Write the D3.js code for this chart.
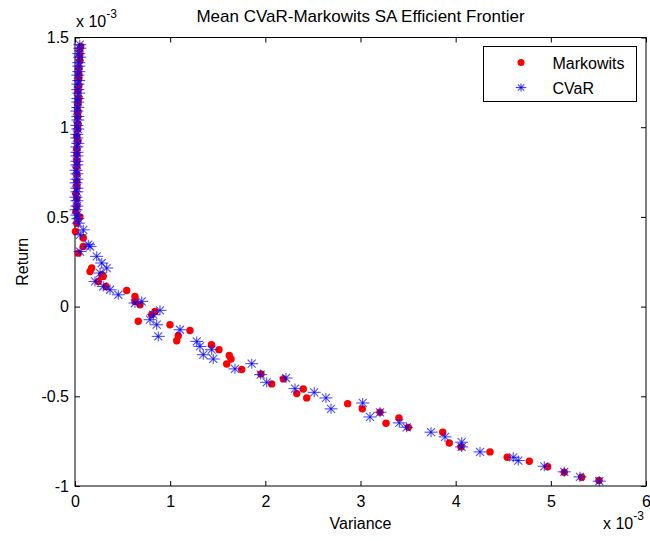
<!DOCTYPE html>
<html>
<head>
<meta charset="utf-8">
<script src="https://cdn.jsdelivr.net/npm/d3@7/dist/d3.min.js"></script>
<style>
  body { margin: 0; background: #fff; }
  svg { font-family: Arial, 'Liberation Sans', sans-serif; }
</style>
</head>
<body>
<div id="chart"></div>
<script>
// values in units of 1e-3, [variance, return]
const markowits = [
  [0.06, 1.45], [0.05, 1.43], [0.05, 1.40], [0.05, 1.37], [0.04, 1.33], [0.04, 1.30],
  [0.04, 1.27], [0.04, 1.23], [0.03, 1.20], [0.04, 1.16], [0.03, 1.13], [0.03, 1.09],
  [0.03, 1.06], [0.03, 1.02], [0.03, 0.99], [0.02, 0.95], [0.03, 0.92], [0.02, 0.88],
  [0.02, 0.85], [0.02, 0.81], [0.02, 0.78], [0.02, 0.74], [0.02, 0.70], [0.02, 0.67],
  [0.01, 0.63], [0.02, 0.60], [0.02, 0.56], [0.01, 0.53], [0.05, 0.50],
  [0.018, 0.465], [0.005, 0.419], [0.087, 0.382], [0.087, 0.335], [0.035, 0.298],
  [0.175, 0.215], [0.158, 0.196], [0.281, 0.178], [0.297, 0.168], [0.245, 0.140],
  [0.326, 0.112], [0.543, 0.090], [0.630, 0.057], [0.630, 0.029], [0.683, 0.010],
  [0.841, -0.027], [0.806, -0.045], [0.665, -0.082], [0.998, -0.101], [1.208, -0.133],
  [1.085, -0.162], [1.069, -0.190], [1.434, -0.212], [1.513, -0.240], [1.621, -0.272],
  [1.639, -0.292], [1.594, -0.320], [1.752, -0.351], [1.954, -0.375], [2.067, -0.431],
  [2.189, -0.403], [2.330, -0.485], [2.399, -0.459], [2.435, -0.509], [2.865, -0.541],
  [3.019, -0.570], [3.205, -0.589], [3.268, -0.650], [3.404, -0.620], [3.502, -0.673],
  [3.864, -0.700], [3.933, -0.760], [4.056, -0.782], [4.361, -0.810], [4.542, -0.840],
  [4.774, -0.862], [4.967, -0.893], [5.141, -0.923], [5.324, -0.951], [5.506, -0.969]
]

const cvar = [
  [0.05, 1.46], [0.05, 1.44], [0.04, 1.41], [0.05, 1.39], [0.04, 1.36], [0.04, 1.34],
  [0.04, 1.31], [0.03, 1.29], [0.04, 1.26], [0.03, 1.24], [0.03, 1.21], [0.04, 1.19],
  [0.03, 1.16], [0.03, 1.14], [0.03, 1.11], [0.02, 1.09], [0.03, 1.06], [0.03, 1.04],
  [0.02, 1.01], [0.03, 0.99], [0.02, 0.96], [0.02, 0.94], [0.03, 0.91], [0.02, 0.89],
  [0.02, 0.86], [0.02, 0.84], [0.02, 0.81], [0.02, 0.79], [0.01, 0.76], [0.02, 0.74],
  [0.02, 0.71], [0.01, 0.69], [0.02, 0.66], [0.02, 0.64], [0.01, 0.61], [0.02, 0.59],
  [0.02, 0.56], [0.01, 0.54], [0.02, 0.51], [0.03, 0.49],
  [0.035, 0.465], [0.053, 0.400], [0.087, 0.428], [0.140, 0.345], [0.158, 0.335],
  [0.053, 0.307], [0.228, 0.280], [0.281, 0.243], [0.333, 0.215], [0.263, 0.187],
  [0.210, 0.140], [0.297, 0.112], [0.368, 0.094], [0.455, 0.066], [0.630, 0.020],
  [0.701, 0.029], [0.893, -0.021], [0.823, -0.045], [0.788, -0.073], [0.858, -0.101],
  [0.875, -0.166], [1.103, -0.129], [1.279, -0.194], [1.313, -0.222], [1.436, -0.240],
  [1.348, -0.268], [1.453, -0.292], [1.681, -0.347], [1.857, -0.318], [1.951, -0.379],
  [2.014, -0.422], [2.217, -0.398], [2.312, -0.457], [2.514, -0.478], [2.637, -0.509],
  [2.690, -0.570], [3.023, -0.537], [3.100, -0.615], [3.205, -0.589], [3.408, -0.648],
  [3.485, -0.673], [3.741, -0.700], [3.888, -0.726], [4.063, -0.756], [4.063, -0.782],
  [4.256, -0.810], [4.605, -0.840], [4.658, -0.858], [4.931, -0.890], [5.141, -0.921],
  [5.306, -0.949], [5.509, -0.973]
]

const xTicks = [0, 1, 2, 3, 4, 5, 6]
const yTicks = [-1, -0.5, 0, 0.5, 1, 1.5]
const seriesNames = ['Markowits', 'CVaR']

const width = 650
const height = 541
const margin = { top: 37.5, right: 4, bottom: 55, left: 75 }

const svg = d3.select('#chart')
  .append('svg')
  .attr('width', width)
  .attr('height', height)

const scaleX = d3.scaleLinear().domain([0, 6]).range([margin.left, width - margin.right])
const scaleY = d3.scaleLinear().domain([-1, 1.5]).range([height - margin.bottom, margin.top])

const x0 = scaleX.range()[0]
const x1 = scaleX.range()[1]
const y0 = scaleY.range()[0]
const y1 = scaleY.range()[1]

// axes with inward ticks, MATLAB style box
const axisBottom = d3.axisBottom(scaleX).tickValues(xTicks).tickSize(-5).tickPadding(10).tickFormat(d3.format('d'))
const axisTop = d3.axisTop(scaleX).tickValues(xTicks).tickSize(-5).tickFormat('')
const axisLeft = d3.axisLeft(scaleY).tickValues(yTicks).tickSize(-5).tickPadding(6).tickFormat((d) => String(d))
const axisRight = d3.axisRight(scaleY).tickValues(yTicks).tickSize(-5).tickFormat('')

const styleAxis = (g) => {
  g.select('.domain').remove()
  g.selectAll('line').attr('stroke', '#000')
  g.selectAll('text').attr('fill', '#000').style('font-size', '16px')
}

svg.append('g').attr('transform', `translate(0, ${y0})`).call(axisBottom).call(styleAxis)
svg.append('g').attr('transform', `translate(0, ${y1})`).call(axisTop).call(styleAxis)
svg.append('g').attr('transform', `translate(${x0}, 0)`).call(axisLeft).call(styleAxis)
svg.append('g').attr('transform', `translate(${x1}, 0)`).call(axisRight).call(styleAxis)

svg.append('rect')
  .attr('x', x0)
  .attr('y', y1)
  .attr('width', x1 - x0)
  .attr('height', y0 - y1)
  .attr('fill', 'none')
  .attr('stroke', '#000')
  .attr('stroke-width', 1)

// asterisk marker: long horizontal bar, shorter vertical, two diagonals
const drawStar = (g, s = 1) => {
  g.append('line').attr('x1', -6.5 * s).attr('x2', 6.5 * s).attr('y1', 0).attr('y2', 0)
  g.append('line').attr('x1', 0).attr('x2', 0).attr('y1', -5 * s).attr('y2', 5 * s)
  g.append('line').attr('x1', -4 * s).attr('x2', 4 * s).attr('y1', -4 * s).attr('y2', 4 * s)
  g.append('line').attr('x1', -4 * s).attr('x2', 4 * s).attr('y1', 4 * s).attr('y2', -4 * s)
}

// markowits dots
svg.append('g')
  .selectAll('circle')
  .data(markowits)
  .join('circle')
  .attr('cx', (d) => scaleX(d[0]))
  .attr('cy', (d) => scaleY(d[1]))
  .attr('r', 3.7)
  .attr('fill', '#ff0000')

// cvar stars
svg.append('g')
  .attr('stroke', '#0000ff')
  .attr('stroke-width', 1.1)
  .attr('stroke-opacity', 0.7)
  .selectAll('g')
  .data(cvar)
  .join('g')
  .attr('transform', (d) => `translate(${scaleX(d[0])}, ${scaleY(d[1])})`)
  .each(function () { drawStar(d3.select(this)) })

// title and labels
svg.append('text')
  .attr('x', (x0 + x1) / 2)
  .attr('y', 22)
  .attr('text-anchor', 'middle')
  .style('font-size', '17px')
  .text('Mean CVaR-Markowits SA Efficient Frontier')

svg.append('text')
  .attr('x', (x0 + x1) / 2)
  .attr('y', 529)
  .attr('text-anchor', 'middle')
  .style('font-size', '16px')
  .text('Variance')

svg.append('text')
  .attr('transform', `translate(28, ${(y0 + y1) / 2}) rotate(-90)`)
  .attr('text-anchor', 'middle')
  .style('font-size', '16px')
  .text('Return')

const exponent = (x, y) => {
  const t = svg.append('text').attr('x', x).attr('y', y).style('font-size', '16px')
  t.append('tspan').text('x 10')
  t.append('tspan').attr('dy', -9).style('font-size', '12px').text('-3')
}
exponent(76, 27)
exponent(603, 529)

// legend
const legend = svg.append('g').attr('transform', 'translate(483.5, 46.5)')
legend.append('rect')
  .attr('width', 153)
  .attr('height', 55)
  .attr('fill', '#fff')
  .attr('stroke', '#000')

legend.append('circle').attr('cx', 37.5).attr('cy', 16).attr('r', 3.5).attr('fill', '#ff0000')
legend.append('g')
  .attr('transform', 'translate(37.5, 41)')
  .attr('stroke', '#0000ff')
  .attr('stroke-width', 1.1)
  .attr('stroke-opacity', 0.75)
  .call((g) => drawStar(g, 0.8))

legend.selectAll('text.name')
  .data(seriesNames)
  .join('text')
  .attr('class', 'name')
  .attr('x', 69)
  .attr('y', (d, i) => 22 + i * 25)
  .style('font-size', '16px')
  .text((d) => d)
</script>
</body>
</html>
